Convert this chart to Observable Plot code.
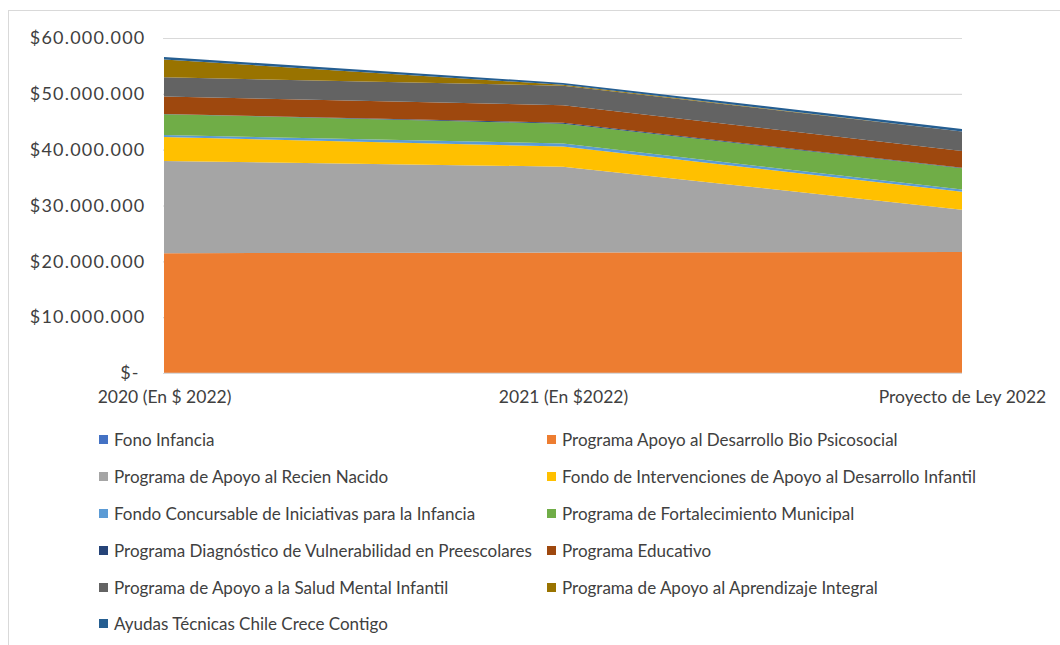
<!DOCTYPE html>
<html>
<head>
<meta charset="utf-8">
<script src="https://cdn.jsdelivr.net/npm/d3@7"></script>
<script src="https://cdn.jsdelivr.net/npm/@observablehq/plot@0.6"></script>
<style>
  html, body { margin: 0; padding: 0; background: #fff; width: 1060px; height: 645px; overflow: hidden; }
  #frame { position: absolute; left: 8px; top: 10px; width: 1200px; height: 800px; border: 1.5px solid #d9d9d9; box-sizing: border-box; }
  #chart { position: absolute; left: 0; top: 0; }
  #legend { position: absolute; left: 0; top: 0; font-family: Lato, "Open Sans", sans-serif; font-size: 17px; color: #404040; }
  .item { position: absolute; white-space: nowrap; display: flex; align-items: center; height: 20px; }
  .sw { width: 9px; height: 9px; margin-right: 6px; display: inline-block; }
  .yax text { font-size: 18px; letter-spacing: 1.2px; }
  .xax text { font-size: 17.5px; }
</style>
</head>
<body>
<div id="frame"></div>
<div id="chart"></div>
<div id="legend"></div>
<script>
const years = ["2020 (En $ 2022)", "2021 (En $2022)", "Proyecto de Ley 2022"];
const seriesNames = [
  "Fono Infancia",
  "Programa Apoyo al Desarrollo Bio Psicosocial",
  "Programa de Apoyo al Recien Nacido",
  "Fondo de Intervenciones de Apoyo al Desarrollo Infantil",
  "Fondo Concursable de Iniciativas para la Infancia",
  "Programa de Fortalecimiento Municipal",
  "Programa Diagnóstico de Vulnerabilidad en Preescolares",
  "Programa Educativo",
  "Programa de Apoyo a la Salud Mental Infantil",
  "Programa de Apoyo al Aprendizaje Integral",
  "Ayudas Técnicas Chile Crece Contigo"
];
const colors = ["#4472c4", "#ed7d31", "#a5a5a5", "#ffc000", "#5b9bd5", "#70ad47", "#264478", "#9e480e", "#636363", "#997300", "#255e91"];

const fonoInfancia        = [60000, 60000, 60000];
const bioPsicosocial      = [21400000, 21500000, 21600000];
const recienNacido        = [16500000, 15400000, 7600000];
const fondoIntervenciones = [4300000, 3600000, 3200000];
const fondoConcursable    = [350000, 550000, 400000];
const fortalecimiento     = [3750000, 3550000, 3800000];
const diagnostico         = [50000, 150000, 100000];
const educativo           = [3100000, 3150000, 3000000];
const saludMental         = [3450000, 3500000, 3500000];
const aprendizaje         = [3200000, 150000, 0];
const ayudas              = [450000, 350000, 450000];

const yTicks = [0, 10000000, 20000000, 30000000, 40000000, 50000000, 60000000];

const seriesValues = [fonoInfancia, bioPsicosocial, recienNacido, fondoIntervenciones, fondoConcursable,
  fortalecimiento, diagnostico, educativo, saludMental, aprendizaje, ayudas];

const data = seriesNames.flatMap((s, i) => years.map((y, j) => ({series: s, year: y, value: seriesValues[i][j]})));

const locale = d3.formatLocale({decimal: ",", thousands: ".", grouping: [3], currency: ["$", ""]});
const fmt = locale.format("$,.0f");
const tickFmt = d => d === 0 ? "$-\u00a0" : fmt(d);

const chart = Plot.plot({
  width: 1060,
  height: 420,
  marginLeft: 163,
  marginRight: 98,
  marginTop: 38,
  marginBottom: 47,
  style: {fontFamily: "Lato, 'Open Sans', sans-serif", fontSize: "17px", color: "#404040", background: "transparent"},
  x: {type: "point", domain: years, padding: 0, label: null},
  y: {domain: [0, 60000000], label: null},
  color: {domain: seriesNames, range: colors},
  marks: [
    Plot.gridY(yTicks, {stroke: "#d9d9d9", strokeOpacity: 1, strokeWidth: 1.2}),
    Plot.areaY(data, {x: "year", y: "value", fill: "series", z: "series"}),
    Plot.axisY(yTicks, {tickSize: 0, tickPadding: 18, tickFormat: tickFmt, label: null, fill: "#404040", className: "yax"}),
    Plot.axisX(years, {tickSize: 0, tickPadding: 17, label: null, fill: "#404040", className: "xax"})
  ]
});
document.getElementById("chart").appendChild(chart);

const legend = document.getElementById("legend");
const rowY = [439, 476, 513, 550, 587, 623];
seriesNames.forEach((s, i) => {
  const col = i % 2, row = Math.floor(i / 2);
  const it = document.createElement("div");
  it.className = "item";
  it.style.left = (col === 0 ? 99 : 547) + "px";
  it.style.top = (rowY[row] - 10) + "px";
  const sw = document.createElement("span");
  sw.className = "sw";
  sw.style.background = colors[i];
  it.appendChild(sw);
  it.appendChild(document.createTextNode(s));
  legend.appendChild(it);
});
</script>
</body>
</html>
